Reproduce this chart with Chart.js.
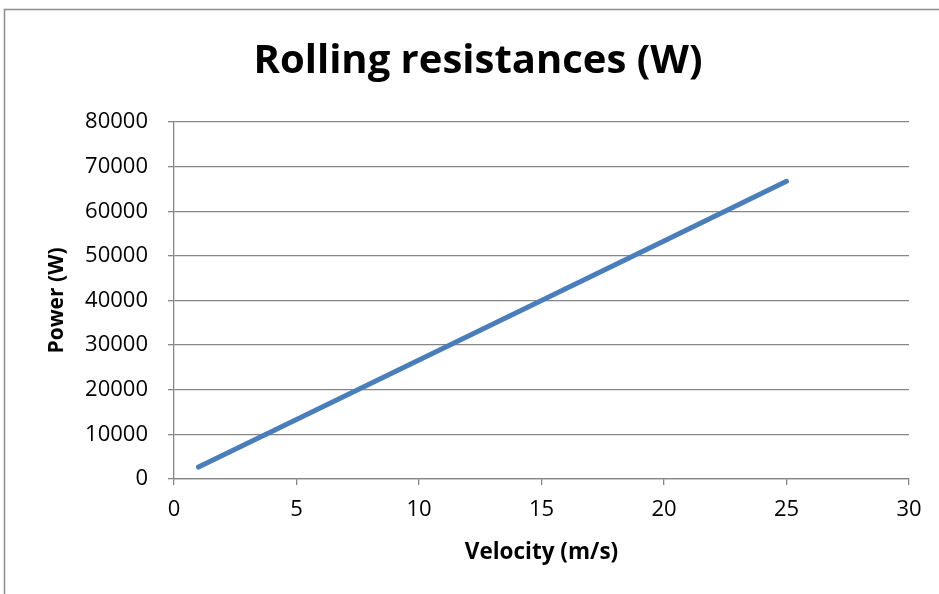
<!DOCTYPE html>
<html>
<head>
<meta charset="utf-8">
<script src="https://cdn.jsdelivr.net/npm/chart.js@4"></script>
<style>
  html, body { margin: 0; padding: 0; background: #ffffff; }
  #wrap { width: 939px; height: 594px; position: relative; }
</style>
</head>
<body>
<div id="wrap"><canvas id="c" width="939" height="594"></canvas></div>
<script>
// Rolling resistance power versus velocity
const velocities = [1, 5, 10, 15, 20, 25];
const powerW = [2668, 13340, 26680, 40020, 53360, 66700];
const xTicks = [0, 5, 10, 15, 20, 25, 30];
const yTicks = [0, 10000, 20000, 30000, 40000, 50000, 60000, 70000, 80000];

const points = velocities.map((v, i) => ({ x: v, y: powerW[i] }));

const FONT = "'Open Sans', Lato, 'DejaVu Sans', sans-serif";
const GRID = '#868686';

// Outer frame of the chart object
const framePlugin = {
  id: 'frame',
  beforeDraw(chart) {
    const ctx = chart.ctx;
    ctx.save();
    ctx.fillStyle = '#ffffff';
    ctx.fillRect(0, 0, chart.width, chart.height);
    ctx.strokeStyle = '#8c8c8c';
    ctx.lineWidth = 1.5;
    ctx.beginPath();
    ctx.moveTo(4.5, chart.height + 2);
    ctx.lineTo(4.5, 9.5);
    ctx.lineTo(chart.width + 2, 9.5);
    ctx.stroke();
    ctx.restore();
  }
};

new Chart(document.getElementById('c'), {
  type: 'scatter',
  data: {
    datasets: [{
      data: points,
      showLine: true,
      borderColor: '#4a7ebb',
      backgroundColor: '#4a7ebb',
      borderWidth: 5,
      borderCapStyle: 'round',
      pointRadius: 0,
      pointHoverRadius: 0
    }]
  },
  options: {
    responsive: false,
    animation: false,
    layout: { padding: { left: 47, right: 30, top: 0, bottom: 5 } },
    plugins: {
      legend: { display: false },
      tooltip: { enabled: false },
      title: {
        display: true,
        text: 'Rolling resistances (W)',
        color: '#000000',
        font: { family: FONT, size: 40, weight: 'bold', lineHeight: 1.2 },
        padding: { top: 38, bottom: 36 }
      }
    },
    scales: {
      x: {
        type: 'linear',
        min: 0, max: 30,
        afterBuildTicks(scale) { scale.ticks = xTicks.map(v => ({ value: v })); },
        afterFit(scale) { scale.height = 110; },
        grid: { drawOnChartArea: false, drawTicks: true, tickLength: 6, color: GRID, lineWidth: 1.3 },
        border: { display: true, color: GRID, width: 1.3 },
        ticks: { color: '#000000', font: { family: FONT, size: 22 }, padding: 12, callback: v => String(v) },
        title: {
          display: true,
          text: 'Velocity (m/s)',
          color: '#000000',
          font: { family: FONT, size: 22.5, weight: 'bold', lineHeight: 1.2 },
          padding: { top: 0, bottom: 23 }
        }
      },
      y: {
        type: 'linear',
        min: 0, max: 80000,
        afterBuildTicks(scale) { scale.ticks = yTicks.map(v => ({ value: v })); },
        afterFit(scale) { scale.width = 127; },
        grid: { drawOnChartArea: true, drawTicks: true, tickLength: 6, color: GRID, lineWidth: 1.3 },
        border: { display: true, color: GRID, width: 1.3 },
        ticks: { color: '#000000', font: { family: FONT, size: 22 }, padding: 20, callback: v => String(v) },
        title: {
          display: true,
          text: 'Power (W)',
          color: '#000000',
          font: { family: FONT, size: 21, weight: 'bold', lineHeight: 1 },
          padding: { top: 0, bottom: 0 }
        }
      }
    }
  },
  plugins: [framePlugin]
});
</script>
</body>
</html>
